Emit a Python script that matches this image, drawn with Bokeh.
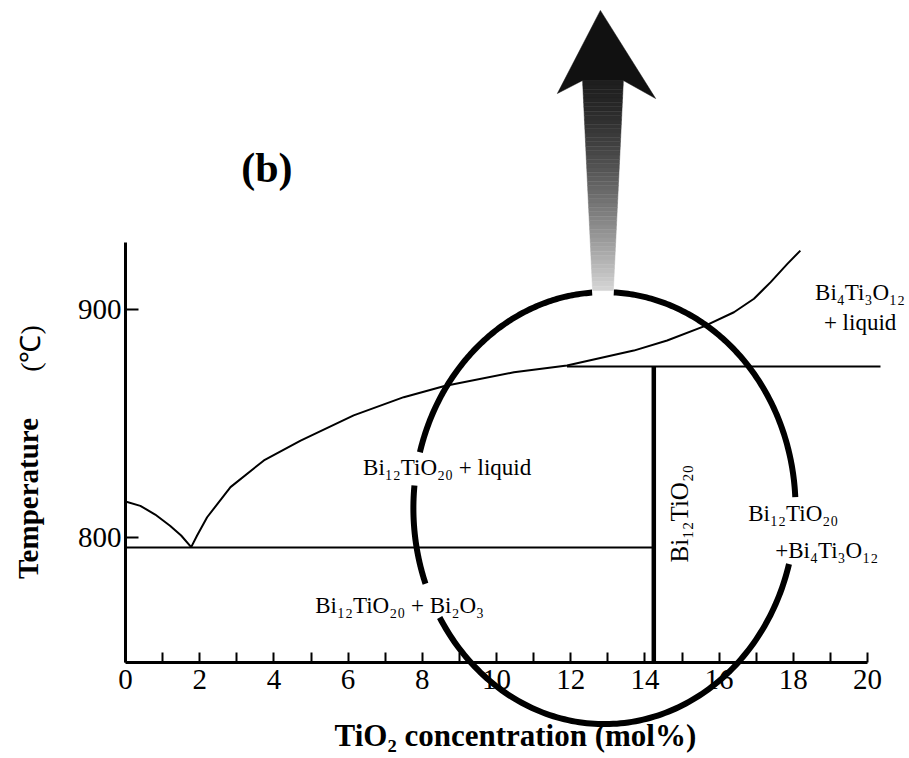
import numpy as np
from bokeh.plotting import figure
from bokeh.models import FixedTicker, Label, Range1d, PolyAnnotation
from bokeh.embed import file_html
from bokeh.resources import INLINE

# ---------------- data ----------------
liq_left_x = [0.0, 0.4, 0.8, 1.2, 1.5, 1.77]
liq_left_T = [815.9, 814.0, 810.2, 805.3, 801.0, 795.9]

liq_right_x = [1.77, 1.93, 2.2, 2.83, 3.73, 4.72, 6.15, 7.5, 8.6, 10.47, 11.9,
               12.8, 13.7, 14.6, 15.59, 16.4, 16.94, 17.39, 17.84, 18.19]
liq_right_T = [795.9, 801.0, 809.0, 822.2, 833.9, 842.6, 853.6, 861.6, 866.5, 872.5, 875.5,
               878.8, 882.0, 886.4, 892.6, 898.8, 904.7, 912.0, 920.0, 925.8]

eutectic_x = [0.0, 14.24]
eutectic_T = [795.8, 795.8]

peritectic_x = [11.9, 20.35]
peritectic_T = [875.0, 875.0]

compound_x = [14.24, 14.24]
compound_T = [745.4, 875.0]

x_ticks = [0, 2, 4, 6, 8, 10, 12, 14, 16, 18, 20]
x_minor_ticks = [1, 3, 5, 7, 9, 11, 13, 15, 17, 19]
y_ticks = [800, 900]
x_axis_bounds = (0, 20)
y_axis_bounds = (745.4, 929.5)

# highlight ellipse (annotation), data units, visible arcs in degrees
ell_cx, ell_cT = 12.91, 813.0
ell_rx, ell_rT = 5.15, 94.6
ell_arcs = [(2.9, 87.2), (93.7, 165.0), (174.0, 200.5), (210.4, 345.0)]

# gradient arrow (annotation), data units
arrow_tip = (12.80, 1031.0)
arrow_wing_left = (11.64, 994.6)
arrow_wing_right = (14.29, 992.4)
shaft_top_T, shaft_bot_T = 1000.3, 908.3
shaft_top_l, shaft_top_r = 12.32, 13.42
shaft_bot_l, shaft_bot_r = 12.59, 13.15

SERIF = "Liberation Serif"

# ---------------- layout: frame covers the whole canvas ----------------
W, H = 908, 756
PX_X = 37.1        # px per mol%
PX_T = 2.283       # px per degree
X0_PX = 125.0      # px of x = 0
T800_PX = 537.3    # px of T = 800

x_lo = -X0_PX / PX_X
x_hi = (W - X0_PX) / PX_X
T_hi = 800 + T800_PX / PX_T
T_lo = 800 - (H - T800_PX) / PX_T

p = figure(width=W, height=H,
           x_range=Range1d(x_lo, x_hi), y_range=Range1d(T_lo, T_hi),
           output_backend="svg", toolbar_location=None,
           min_border_left=0, min_border_right=0, min_border_top=0, min_border_bottom=0)
p.outline_line_color = None
p.xgrid.visible = False
p.ygrid.visible = False
p.background_fill_color = "white"
p.border_fill_color = "white"

# axes pinned at the data origin of the diagram
xa = p.xaxis[0]
xa.fixed_location = y_axis_bounds[0]
xa.ticker = FixedTicker(ticks=x_ticks, minor_ticks=x_minor_ticks)
xa.bounds = x_axis_bounds
xa.axis_line_width = 3
xa.major_tick_line_width = 2
xa.minor_tick_line_width = 2
xa.major_tick_in = 10
xa.major_tick_out = 0
xa.minor_tick_in = 10
xa.minor_tick_out = 0
xa.major_label_standoff = 8
xa.major_label_text_font = SERIF
xa.major_label_text_font_size = "29px"
xa.major_label_text_color = "black"

ya = p.yaxis[0]
ya.fixed_location = x_axis_bounds[0]
ya.ticker = FixedTicker(ticks=y_ticks)
ya.bounds = y_axis_bounds
ya.axis_line_width = 3
ya.major_tick_line_width = 2
ya.major_tick_in = 13
ya.major_tick_out = 0
ya.minor_tick_line_color = None
ya.major_label_standoff = 4
ya.major_label_text_font = SERIF
ya.major_label_text_font_size = "29px"
ya.major_label_text_color = "black"

# phase boundaries
p.line(liq_left_x, liq_left_T, line_color="black", line_width=2)
p.line(liq_right_x, liq_right_T, line_color="black", line_width=2, line_join="round")
p.line(eutectic_x, eutectic_T, line_color="black", line_width=2)
p.line(peritectic_x, peritectic_T, line_color="black", line_width=2)
p.line(compound_x, compound_T, line_color="black", line_width=4.5)

# gradient arrow: shaft as stacked slices, dark at top, fading downwards
N = 48
xs, ys, cols = [], [], []
for i in range(N):
    s0, s1 = i / N, (i + 1) / N
    T0 = shaft_top_T + (shaft_bot_T - shaft_top_T) * s0
    T1 = shaft_top_T + (shaft_bot_T - shaft_top_T) * s1
    l0 = shaft_top_l + (shaft_bot_l - shaft_top_l) * s0
    l1 = shaft_top_l + (shaft_bot_l - shaft_top_l) * s1
    r0 = shaft_top_r + (shaft_bot_r - shaft_top_r) * s0
    r1 = shaft_top_r + (shaft_bot_r - shaft_top_r) * s1
    xs.append([l0, r0, r1, l1])
    ys.append([T0, T0, T1, T1])
    s = (s0 + s1) / 2
    g = int(255 * (0.12 + 0.72 * s ** 1.4))
    cols.append("#%02x%02x%02x" % (g, g, g))
p.patches(xs, ys, fill_color=cols, line_color=cols, line_width=0.5)
p.patch([shaft_top_l, arrow_wing_left[0], arrow_tip[0], arrow_wing_right[0], shaft_top_r],
        [shaft_top_T, arrow_wing_left[1], arrow_tip[1], arrow_wing_right[1], shaft_top_T],
        fill_color="#111111", line_color="#111111", line_width=0.5)

# ellipse drawn as thick bands (6 px)
hx, hT = 3.0 / PX_X, 3.0 / PX_T
for a0, a1 in ell_arcs:
    t = np.radians(np.linspace(a0, a1, 120))
    ox = ell_cx + (ell_rx + hx) * np.cos(t)
    oT = ell_cT + (ell_rT + hT) * np.sin(t)
    ix = ell_cx + (ell_rx - hx) * np.cos(t[::-1])
    iT = ell_cT + (ell_rT - hT) * np.sin(t[::-1])
    p.add_layout(PolyAnnotation(xs=list(np.concatenate([ox, ix])), ys=list(np.concatenate([oT, iT])),
                                fill_color="black", fill_alpha=1.0, line_color=None))


def lab(x, y, text, size, bold=False, angle=0.0, align="center"):
    p.add_layout(Label(x=x, y=y, text=text, text_font=SERIF, text_font_size=size,
                       text_font_style="bold" if bold else "normal", text_color="black",
                       text_align=align, text_baseline="middle", angle=angle))


lab(8.67, 830.9, "Bi₁₂TiO₂₀ + liquid", "23px")
lab(7.39, 770.3, "Bi₁₂TiO₂₀ + Bi₂O₃", "23px")
lab(19.8, 907.6, "Bi₄Ti₃O₁₂", "23px")
lab(19.8, 894.4, "+ liquid", "23px")
lab(18.0, 810.5, "Bi₁₂TiO₂₀", "23px")
lab(18.9, 794.4, "+Bi₄Ti₃O₁₂", "23px")
lab(14.93, 810.6, "Bi₁₂TiO₂₀", "25px", angle=np.pi / 2)
lab(3.81, 961.8, "(b)", "42px", bold=True)

# axis titles
lab(10.51, 713.5, "TiO₂ concentration (mol%)", "31px", bold=True)
lab(-2.64, 817.2, "Temperature", "29px", bold=True, angle=np.pi / 2)
lab(-2.56, 882.9, "(℃)", "28px", angle=np.pi / 2)

open("out.html", "w").write(file_html(p, INLINE))
